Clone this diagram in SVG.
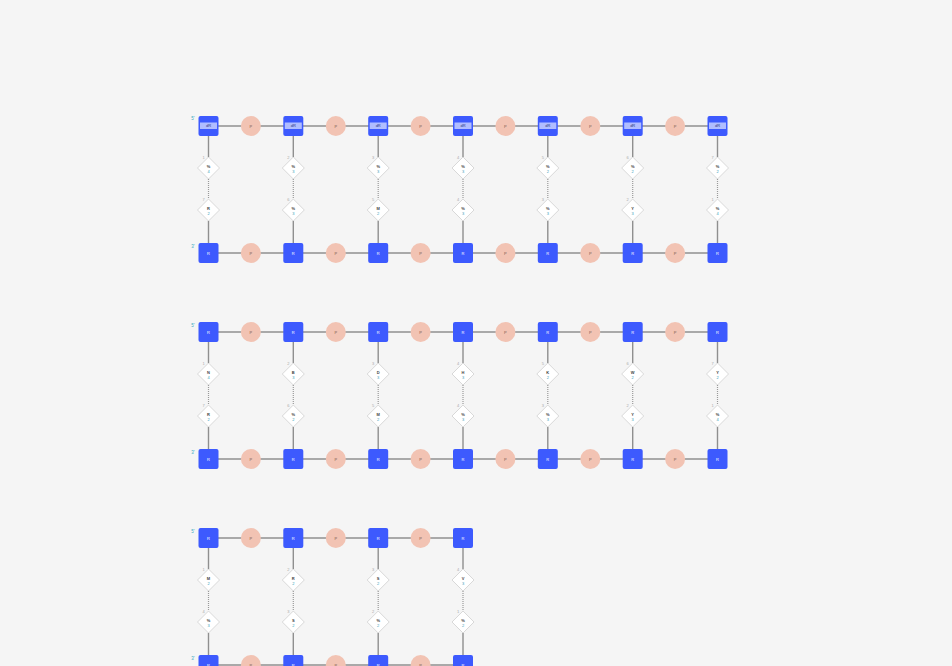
<svg xmlns="http://www.w3.org/2000/svg" width="952" height="666" viewBox="0 0 952 666">
<style>
.bg{fill:#f5f5f5}
.ln{stroke:#8f8f8f;stroke-width:1.4;fill:none}
.dt{stroke:#9a9a9a;stroke-width:1.2;stroke-dasharray:1 1;fill:none}
.sq{fill:#3d5afe}
.band{fill:#b0bdff}
.ph{fill:#f2c3b3}
.dia{fill:#ffffff;stroke:#cfcfcf;stroke-width:0.8}
text{font-family:"Liberation Sans",Arial,sans-serif;text-anchor:middle}
.ts{font-size:4px;fill:#ffffff}
.tb{font-size:4px;fill:#2a3580}
.tp{font-size:4px;fill:#7a5a50}
.tl{font-size:4px;font-weight:bold;fill:#444}
.tn{font-size:4px;fill:#3aa0b8}
.ti{font-size:4px;fill:#aaaaaa}
.end{font-size:4.5px;fill:#3aa8c0}
</style>
<rect class="bg" x="0" y="0" width="952" height="666"/>
<g id="connectors">
<line class="ln" x1="208.5" y1="126" x2="717.5" y2="126"/>
<line class="ln" x1="208.5" y1="253" x2="717.5" y2="253"/>
<line class="ln" x1="208.5" y1="332" x2="717.5" y2="332"/>
<line class="ln" x1="208.5" y1="459" x2="717.5" y2="459"/>
<line class="ln" x1="208.5" y1="538" x2="463" y2="538"/>
<line class="ln" x1="208.5" y1="665" x2="463" y2="665"/>
<path class="ln" d="M208.5 136V157M208.5 221V243M293.3 136V157M293.3 221V243M378.2 136V157M378.2 221V243M463 136V157M463 221V243M547.8 136V157M547.8 221V243M632.7 136V157M632.7 221V243M717.5 136V157M717.5 221V243"/>
<path class="dt" d="M208.5 179V199M293.3 179V199M378.2 179V199M463 179V199M547.8 179V199M632.7 179V199M717.5 179V199"/>
<path class="ln" d="M208.5 342V363M208.5 427V449M293.3 342V363M293.3 427V449M378.2 342V363M378.2 427V449M463 342V363M463 427V449M547.8 342V363M547.8 427V449M632.7 342V363M632.7 427V449M717.5 342V363M717.5 427V449"/>
<path class="dt" d="M208.5 385V405M293.3 385V405M378.2 385V405M463 385V405M547.8 385V405M632.7 385V405M717.5 385V405"/>
<path class="ln" d="M208.5 548V569M208.5 633V655M293.3 548V569M293.3 633V655M378.2 548V569M378.2 633V655M463 548V569M463 633V655"/>
<path class="dt" d="M208.5 591V611M293.3 591V611M378.2 591V611M463 591V611"/>
</g>
<g id="labels">
<text class="end" x="193" y="120">5'</text>
<text class="end" x="193" y="248">3'</text>
<text class="end" x="193" y="327">5'</text>
<text class="end" x="193" y="454">3'</text>
<text class="end" x="193" y="533">5'</text>
<text class="end" x="193" y="660">3'</text>
</g>
<!-- Row 1 top -->
<g id="r1t1"><rect class="sq" x="198.5" y="116" width="20" height="20" rx="2"/><rect class="band" x="200" y="122.5" width="17" height="6.5"/><text class="tb" x="208.5" y="127.3">dR</text></g>
<g id="r1t2"><rect class="sq" x="283.3" y="116" width="20" height="20" rx="2"/><rect class="band" x="284.8" y="122.5" width="17" height="6.5"/><text class="tb" x="293.3" y="127.3">dR</text></g>
<g id="r1t3"><rect class="sq" x="368.2" y="116" width="20" height="20" rx="2"/><rect class="band" x="369.7" y="122.5" width="17" height="6.5"/><text class="tb" x="378.2" y="127.3">dR</text></g>
<g id="r1t4"><rect class="sq" x="453" y="116" width="20" height="20" rx="2"/><rect class="band" x="454.5" y="122.5" width="17" height="6.5"/><text class="tb" x="463" y="127.3">dR</text></g>
<g id="r1t5"><rect class="sq" x="537.8" y="116" width="20" height="20" rx="2"/><rect class="band" x="539.3" y="122.5" width="17" height="6.5"/><text class="tb" x="547.8" y="127.3">dR</text></g>
<g id="r1t6"><rect class="sq" x="622.7" y="116" width="20" height="20" rx="2"/><rect class="band" x="624.2" y="122.5" width="17" height="6.5"/><text class="tb" x="632.7" y="127.3">dR</text></g>
<g id="r1t7"><rect class="sq" x="707.5" y="116" width="20" height="20" rx="2"/><rect class="band" x="709" y="122.5" width="17" height="6.5"/><text class="tb" x="717.5" y="127.3">dR</text></g>
<g id="r1tp1"><circle class="ph" cx="250.9" cy="126" r="10"/><text class="tp" x="250.9" y="127.5">P</text></g>
<g id="r1tp2"><circle class="ph" cx="335.8" cy="126" r="10"/><text class="tp" x="335.8" y="127.5">P</text></g>
<g id="r1tp3"><circle class="ph" cx="420.6" cy="126" r="10"/><text class="tp" x="420.6" y="127.5">P</text></g>
<g id="r1tp4"><circle class="ph" cx="505.4" cy="126" r="10"/><text class="tp" x="505.4" y="127.5">P</text></g>
<g id="r1tp5"><circle class="ph" cx="590.3" cy="126" r="10"/><text class="tp" x="590.3" y="127.5">P</text></g>
<g id="r1tp6"><circle class="ph" cx="675.1" cy="126" r="10"/><text class="tp" x="675.1" y="127.5">P</text></g>
<!-- Row 1 bottom -->
<g id="r1b1"><rect class="sq" x="198.5" y="243" width="20" height="20" rx="2"/><text class="ts" x="208.5" y="254.5">R</text></g>
<g id="r1b2"><rect class="sq" x="283.3" y="243" width="20" height="20" rx="2"/><text class="ts" x="293.3" y="254.5">R</text></g>
<g id="r1b3"><rect class="sq" x="368.2" y="243" width="20" height="20" rx="2"/><text class="ts" x="378.2" y="254.5">R</text></g>
<g id="r1b4"><rect class="sq" x="453" y="243" width="20" height="20" rx="2"/><text class="ts" x="463" y="254.5">R</text></g>
<g id="r1b5"><rect class="sq" x="537.8" y="243" width="20" height="20" rx="2"/><text class="ts" x="547.8" y="254.5">R</text></g>
<g id="r1b6"><rect class="sq" x="622.7" y="243" width="20" height="20" rx="2"/><text class="ts" x="632.7" y="254.5">R</text></g>
<g id="r1b7"><rect class="sq" x="707.5" y="243" width="20" height="20" rx="2"/><text class="ts" x="717.5" y="254.5">R</text></g>
<g id="r1bp1"><circle class="ph" cx="250.9" cy="253" r="10"/><text class="tp" x="250.9" y="254.5">P</text></g>
<g id="r1bp2"><circle class="ph" cx="335.8" cy="253" r="10"/><text class="tp" x="335.8" y="254.5">P</text></g>
<g id="r1bp3"><circle class="ph" cx="420.6" cy="253" r="10"/><text class="tp" x="420.6" y="254.5">P</text></g>
<g id="r1bp4"><circle class="ph" cx="505.4" cy="253" r="10"/><text class="tp" x="505.4" y="254.5">P</text></g>
<g id="r1bp5"><circle class="ph" cx="590.3" cy="253" r="10"/><text class="tp" x="590.3" y="254.5">P</text></g>
<g id="r1bp6"><circle class="ph" cx="675.1" cy="253" r="10"/><text class="tp" x="675.1" y="254.5">P</text></g>
<!-- Row 1 diamonds -->
<g id="r1d1a"><polygon class="dia" points="208.5,157 219.5,168 208.5,179 197.5,168"/><text class="ti" x="203.5" y="158.5">1</text><text class="tl" x="208.5" y="168">%</text><text class="tn" x="208.5" y="172.5">4</text></g>
<g id="r1d2a"><polygon class="dia" points="293.3,157 304.3,168 293.3,179 282.3,168"/><text class="ti" x="288.3" y="158.5">2</text><text class="tl" x="293.3" y="168">%</text><text class="tn" x="293.3" y="172.5">3</text></g>
<g id="r1d3a"><polygon class="dia" points="378.2,157 389.2,168 378.2,179 367.2,168"/><text class="ti" x="373.2" y="158.5">3</text><text class="tl" x="378.2" y="168">%</text><text class="tn" x="378.2" y="172.5">3</text></g>
<g id="r1d4a"><polygon class="dia" points="463,157 474,168 463,179 452,168"/><text class="ti" x="458" y="158.5">4</text><text class="tl" x="463" y="168">%</text><text class="tn" x="463" y="172.5">3</text></g>
<g id="r1d5a"><polygon class="dia" points="547.8,157 558.8,168 547.8,179 536.8,168"/><text class="ti" x="542.8" y="158.5">5</text><text class="tl" x="547.8" y="168">%</text><text class="tn" x="547.8" y="172.5">2</text></g>
<g id="r1d6a"><polygon class="dia" points="632.7,157 643.7,168 632.7,179 621.7,168"/><text class="ti" x="627.7" y="158.5">6</text><text class="tl" x="632.7" y="168">%</text><text class="tn" x="632.7" y="172.5">2</text></g>
<g id="r1d7a"><polygon class="dia" points="717.5,157 728.5,168 717.5,179 706.5,168"/><text class="ti" x="712.5" y="158.5">7</text><text class="tl" x="717.5" y="168">%</text><text class="tn" x="717.5" y="172.5">2</text></g>
<g id="r1d1b"><polygon class="dia" points="208.5,199 219.5,210 208.5,221 197.5,210"/><text class="ti" x="203.5" y="200.5">7</text><text class="tl" x="208.5" y="210">R</text><text class="tn" x="208.5" y="214.5">2</text></g>
<g id="r1d2b"><polygon class="dia" points="293.3,199 304.3,210 293.3,221 282.3,210"/><text class="ti" x="288.3" y="200.5">6</text><text class="tl" x="293.3" y="210">%</text><text class="tn" x="293.3" y="214.5">3</text></g>
<g id="r1d3b"><polygon class="dia" points="378.2,199 389.2,210 378.2,221 367.2,210"/><text class="ti" x="373.2" y="200.5">5</text><text class="tl" x="378.2" y="210">M</text><text class="tn" x="378.2" y="214.5">2</text></g>
<g id="r1d4b"><polygon class="dia" points="463,199 474,210 463,221 452,210"/><text class="ti" x="458" y="200.5">4</text><text class="tl" x="463" y="210">%</text><text class="tn" x="463" y="214.5">3</text></g>
<g id="r1d5b"><polygon class="dia" points="547.8,199 558.8,210 547.8,221 536.8,210"/><text class="ti" x="542.8" y="200.5">3</text><text class="tl" x="547.8" y="210">%</text><text class="tn" x="547.8" y="214.5">3</text></g>
<g id="r1d6b"><polygon class="dia" points="632.7,199 643.7,210 632.7,221 621.7,210"/><text class="ti" x="627.7" y="200.5">2</text><text class="tl" x="632.7" y="210">Y</text><text class="tn" x="632.7" y="214.5">3</text></g>
<g id="r1d7b"><polygon class="dia" points="717.5,199 728.5,210 717.5,221 706.5,210"/><text class="ti" x="712.5" y="200.5">1</text><text class="tl" x="717.5" y="210">%</text><text class="tn" x="717.5" y="214.5">4</text></g>
<!-- Row 2 top -->
<g id="r2t1"><rect class="sq" x="198.5" y="322" width="20" height="20" rx="2"/><text class="ts" x="208.5" y="333.5">R</text></g>
<g id="r2t2"><rect class="sq" x="283.3" y="322" width="20" height="20" rx="2"/><text class="ts" x="293.3" y="333.5">R</text></g>
<g id="r2t3"><rect class="sq" x="368.2" y="322" width="20" height="20" rx="2"/><text class="ts" x="378.2" y="333.5">R</text></g>
<g id="r2t4"><rect class="sq" x="453" y="322" width="20" height="20" rx="2"/><text class="ts" x="463" y="333.5">R</text></g>
<g id="r2t5"><rect class="sq" x="537.8" y="322" width="20" height="20" rx="2"/><text class="ts" x="547.8" y="333.5">R</text></g>
<g id="r2t6"><rect class="sq" x="622.7" y="322" width="20" height="20" rx="2"/><text class="ts" x="632.7" y="333.5">R</text></g>
<g id="r2t7"><rect class="sq" x="707.5" y="322" width="20" height="20" rx="2"/><text class="ts" x="717.5" y="333.5">R</text></g>
<g id="r2tp1"><circle class="ph" cx="250.9" cy="332" r="10"/><text class="tp" x="250.9" y="333.5">P</text></g>
<g id="r2tp2"><circle class="ph" cx="335.8" cy="332" r="10"/><text class="tp" x="335.8" y="333.5">P</text></g>
<g id="r2tp3"><circle class="ph" cx="420.6" cy="332" r="10"/><text class="tp" x="420.6" y="333.5">P</text></g>
<g id="r2tp4"><circle class="ph" cx="505.4" cy="332" r="10"/><text class="tp" x="505.4" y="333.5">P</text></g>
<g id="r2tp5"><circle class="ph" cx="590.3" cy="332" r="10"/><text class="tp" x="590.3" y="333.5">P</text></g>
<g id="r2tp6"><circle class="ph" cx="675.1" cy="332" r="10"/><text class="tp" x="675.1" y="333.5">P</text></g>
<!-- Row 2 bottom -->
<g id="r2b1"><rect class="sq" x="198.5" y="449" width="20" height="20" rx="2"/><text class="ts" x="208.5" y="460.5">R</text></g>
<g id="r2b2"><rect class="sq" x="283.3" y="449" width="20" height="20" rx="2"/><text class="ts" x="293.3" y="460.5">R</text></g>
<g id="r2b3"><rect class="sq" x="368.2" y="449" width="20" height="20" rx="2"/><text class="ts" x="378.2" y="460.5">R</text></g>
<g id="r2b4"><rect class="sq" x="453" y="449" width="20" height="20" rx="2"/><text class="ts" x="463" y="460.5">R</text></g>
<g id="r2b5"><rect class="sq" x="537.8" y="449" width="20" height="20" rx="2"/><text class="ts" x="547.8" y="460.5">R</text></g>
<g id="r2b6"><rect class="sq" x="622.7" y="449" width="20" height="20" rx="2"/><text class="ts" x="632.7" y="460.5">R</text></g>
<g id="r2b7"><rect class="sq" x="707.5" y="449" width="20" height="20" rx="2"/><text class="ts" x="717.5" y="460.5">R</text></g>
<g id="r2bp1"><circle class="ph" cx="250.9" cy="459" r="10"/><text class="tp" x="250.9" y="460.5">P</text></g>
<g id="r2bp2"><circle class="ph" cx="335.8" cy="459" r="10"/><text class="tp" x="335.8" y="460.5">P</text></g>
<g id="r2bp3"><circle class="ph" cx="420.6" cy="459" r="10"/><text class="tp" x="420.6" y="460.5">P</text></g>
<g id="r2bp4"><circle class="ph" cx="505.4" cy="459" r="10"/><text class="tp" x="505.4" y="460.5">P</text></g>
<g id="r2bp5"><circle class="ph" cx="590.3" cy="459" r="10"/><text class="tp" x="590.3" y="460.5">P</text></g>
<g id="r2bp6"><circle class="ph" cx="675.1" cy="459" r="10"/><text class="tp" x="675.1" y="460.5">P</text></g>
<!-- Row 2 diamonds -->
<g id="r2d1a"><polygon class="dia" points="208.5,363 219.5,374 208.5,385 197.5,374"/><text class="ti" x="203.5" y="364.5">1</text><text class="tl" x="208.5" y="374">N</text><text class="tn" x="208.5" y="378.5">4</text></g>
<g id="r2d2a"><polygon class="dia" points="293.3,363 304.3,374 293.3,385 282.3,374"/><text class="ti" x="288.3" y="364.5">2</text><text class="tl" x="293.3" y="374">B</text><text class="tn" x="293.3" y="378.5">3</text></g>
<g id="r2d3a"><polygon class="dia" points="378.2,363 389.2,374 378.2,385 367.2,374"/><text class="ti" x="373.2" y="364.5">3</text><text class="tl" x="378.2" y="374">D</text><text class="tn" x="378.2" y="378.5">3</text></g>
<g id="r2d4a"><polygon class="dia" points="463,363 474,374 463,385 452,374"/><text class="ti" x="458" y="364.5">4</text><text class="tl" x="463" y="374">H</text><text class="tn" x="463" y="378.5">3</text></g>
<g id="r2d5a"><polygon class="dia" points="547.8,363 558.8,374 547.8,385 536.8,374"/><text class="ti" x="542.8" y="364.5">5</text><text class="tl" x="547.8" y="374">K</text><text class="tn" x="547.8" y="378.5">2</text></g>
<g id="r2d6a"><polygon class="dia" points="632.7,363 643.7,374 632.7,385 621.7,374"/><text class="ti" x="627.7" y="364.5">6</text><text class="tl" x="632.7" y="374">W</text><text class="tn" x="632.7" y="378.5">2</text></g>
<g id="r2d7a"><polygon class="dia" points="717.5,363 728.5,374 717.5,385 706.5,374"/><text class="ti" x="712.5" y="364.5">7</text><text class="tl" x="717.5" y="374">Y</text><text class="tn" x="717.5" y="378.5">2</text></g>
<g id="r2d1b"><polygon class="dia" points="208.5,405 219.5,416 208.5,427 197.5,416"/><text class="ti" x="203.5" y="406.5">7</text><text class="tl" x="208.5" y="416">R</text><text class="tn" x="208.5" y="420.5">2</text></g>
<g id="r2d2b"><polygon class="dia" points="293.3,405 304.3,416 293.3,427 282.3,416"/><text class="ti" x="288.3" y="406.5">6</text><text class="tl" x="293.3" y="416">%</text><text class="tn" x="293.3" y="420.5">2</text></g>
<g id="r2d3b"><polygon class="dia" points="378.2,405 389.2,416 378.2,427 367.2,416"/><text class="ti" x="373.2" y="406.5">5</text><text class="tl" x="378.2" y="416">M</text><text class="tn" x="378.2" y="420.5">2</text></g>
<g id="r2d4b"><polygon class="dia" points="463,405 474,416 463,427 452,416"/><text class="ti" x="458" y="406.5">4</text><text class="tl" x="463" y="416">%</text><text class="tn" x="463" y="420.5">3</text></g>
<g id="r2d5b"><polygon class="dia" points="547.8,405 558.8,416 547.8,427 536.8,416"/><text class="ti" x="542.8" y="406.5">3</text><text class="tl" x="547.8" y="416">%</text><text class="tn" x="547.8" y="420.5">3</text></g>
<g id="r2d6b"><polygon class="dia" points="632.7,405 643.7,416 632.7,427 621.7,416"/><text class="ti" x="627.7" y="406.5">2</text><text class="tl" x="632.7" y="416">Y</text><text class="tn" x="632.7" y="420.5">3</text></g>
<g id="r2d7b"><polygon class="dia" points="717.5,405 728.5,416 717.5,427 706.5,416"/><text class="ti" x="712.5" y="406.5">1</text><text class="tl" x="717.5" y="416">%</text><text class="tn" x="717.5" y="420.5">4</text></g>
<!-- Row 3 top -->
<g id="r3t1"><rect class="sq" x="198.5" y="528" width="20" height="20" rx="2"/><text class="ts" x="208.5" y="539.5">R</text></g>
<g id="r3t2"><rect class="sq" x="283.3" y="528" width="20" height="20" rx="2"/><text class="ts" x="293.3" y="539.5">R</text></g>
<g id="r3t3"><rect class="sq" x="368.2" y="528" width="20" height="20" rx="2"/><text class="ts" x="378.2" y="539.5">R</text></g>
<g id="r3t4"><rect class="sq" x="453" y="528" width="20" height="20" rx="2"/><text class="ts" x="463" y="539.5">R</text></g>
<g id="r3tp1"><circle class="ph" cx="250.9" cy="538" r="10"/><text class="tp" x="250.9" y="539.5">P</text></g>
<g id="r3tp2"><circle class="ph" cx="335.8" cy="538" r="10"/><text class="tp" x="335.8" y="539.5">P</text></g>
<g id="r3tp3"><circle class="ph" cx="420.6" cy="538" r="10"/><text class="tp" x="420.6" y="539.5">P</text></g>
<!-- Row 3 bottom -->
<g id="r3b1"><rect class="sq" x="198.5" y="655" width="20" height="20" rx="2"/><text class="ts" x="208.5" y="666.5">R</text></g>
<g id="r3b2"><rect class="sq" x="283.3" y="655" width="20" height="20" rx="2"/><text class="ts" x="293.3" y="666.5">R</text></g>
<g id="r3b3"><rect class="sq" x="368.2" y="655" width="20" height="20" rx="2"/><text class="ts" x="378.2" y="666.5">R</text></g>
<g id="r3b4"><rect class="sq" x="453" y="655" width="20" height="20" rx="2"/><text class="ts" x="463" y="666.5">R</text></g>
<g id="r3bp1"><circle class="ph" cx="250.9" cy="665" r="10"/><text class="tp" x="250.9" y="666.5">P</text></g>
<g id="r3bp2"><circle class="ph" cx="335.8" cy="665" r="10"/><text class="tp" x="335.8" y="666.5">P</text></g>
<g id="r3bp3"><circle class="ph" cx="420.6" cy="665" r="10"/><text class="tp" x="420.6" y="666.5">P</text></g>
<!-- Row 3 diamonds -->
<g id="r3d1a"><polygon class="dia" points="208.5,569 219.5,580 208.5,591 197.5,580"/><text class="ti" x="203.5" y="570.5">1</text><text class="tl" x="208.5" y="580">M</text><text class="tn" x="208.5" y="584.5">2</text></g>
<g id="r3d2a"><polygon class="dia" points="293.3,569 304.3,580 293.3,591 282.3,580"/><text class="ti" x="288.3" y="570.5">2</text><text class="tl" x="293.3" y="580">R</text><text class="tn" x="293.3" y="584.5">2</text></g>
<g id="r3d3a"><polygon class="dia" points="378.2,569 389.2,580 378.2,591 367.2,580"/><text class="ti" x="373.2" y="570.5">3</text><text class="tl" x="378.2" y="580">S</text><text class="tn" x="378.2" y="584.5">2</text></g>
<g id="r3d4a"><polygon class="dia" points="463,569 474,580 463,591 452,580"/><text class="ti" x="458" y="570.5">4</text><text class="tl" x="463" y="580">V</text><text class="tn" x="463" y="584.5">3</text></g>
<g id="r3d1b"><polygon class="dia" points="208.5,611 219.5,622 208.5,633 197.5,622"/><text class="ti" x="203.5" y="612.5">4</text><text class="tl" x="208.5" y="622">%</text><text class="tn" x="208.5" y="626.5">3</text></g>
<g id="r3d2b"><polygon class="dia" points="293.3,611 304.3,622 293.3,633 282.3,622"/><text class="ti" x="288.3" y="612.5">3</text><text class="tl" x="293.3" y="622">S</text><text class="tn" x="293.3" y="626.5">2</text></g>
<g id="r3d3b"><polygon class="dia" points="378.2,611 389.2,622 378.2,633 367.2,622"/><text class="ti" x="373.2" y="612.5">2</text><text class="tl" x="378.2" y="622">%</text><text class="tn" x="378.2" y="626.5">2</text></g>
<g id="r3d4b"><polygon class="dia" points="463,611 474,622 463,633 452,622"/><text class="ti" x="458" y="612.5">1</text><text class="tl" x="463" y="622">%</text><text class="tn" x="463" y="626.5">2</text></g>
</svg>
